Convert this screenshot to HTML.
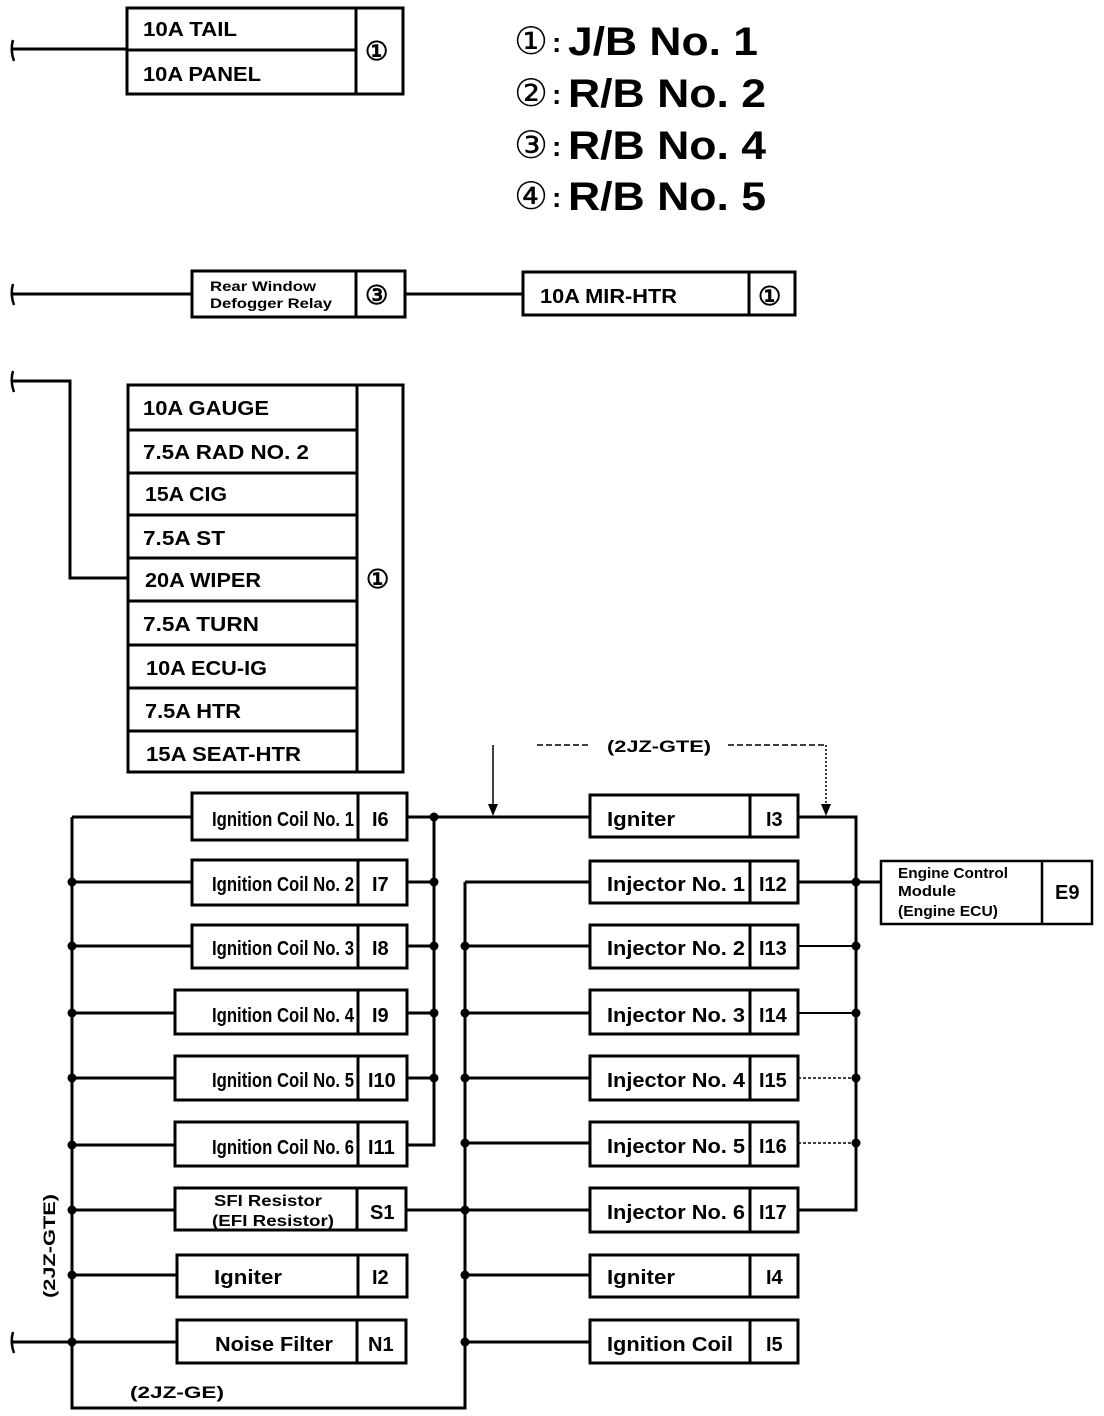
<!DOCTYPE html>
<html><head><meta charset="utf-8">
<style>
html,body{margin:0;padding:0;background:#fff;}
svg{display:block;}
text{font-family:"Liberation Sans",Arial,sans-serif;font-weight:bold;fill:#000;}
.c{font-family:"DejaVu Sans","Liberation Sans",sans-serif;font-weight:normal;}
</style></head>
<body>
<svg width="1104" height="1416" viewBox="0 0 1104 1416" xmlns="http://www.w3.org/2000/svg">
<g fill="none" stroke="#000" stroke-width="3">
<path d="M13 40 Q10 50 14 61" stroke-width="2.5"/>
<path d="M13 284 Q10 294 14 305" stroke-width="2.5"/>
<path d="M13 371 Q10 381 14 392" stroke-width="2.5"/>
<path d="M13 1332 Q10 1342 14 1353" stroke-width="2.5"/>
<line x1="13" y1="49" x2="127" y2="49"/>
<rect x="127" y="8" width="276" height="86"/>
<line x1="356" y1="8" x2="356" y2="94"/>
<line x1="127" y1="50" x2="356" y2="50"/>
<line x1="13" y1="294" x2="192" y2="294"/>
<rect x="192" y="271" width="213" height="46"/>
<line x1="356" y1="271" x2="356" y2="317"/>
<line x1="405" y1="294" x2="523" y2="294"/>
<rect x="523" y="272" width="272" height="43"/>
<line x1="749" y1="272" x2="749" y2="315"/>
<polyline points="13,381 70,381 70,578 128,578"/>
<rect x="128" y="385" width="275" height="387"/>
<line x1="357" y1="385" x2="357" y2="772"/>
<line x1="128" y1="430" x2="357" y2="430"/>
<line x1="128" y1="473" x2="357" y2="473"/>
<line x1="128" y1="515" x2="357" y2="515"/>
<line x1="128" y1="558" x2="357" y2="558"/>
<line x1="128" y1="601" x2="357" y2="601"/>
<line x1="128" y1="645" x2="357" y2="645"/>
<line x1="128" y1="688" x2="357" y2="688"/>
<line x1="128" y1="731" x2="357" y2="731"/>

<polyline points="72,817 72,1408 465,1408 465,882"/>
<line x1="72" y1="817" x2="192" y2="817"/>
<line x1="72" y1="882" x2="192" y2="882"/>
<line x1="72" y1="946" x2="192" y2="946"/>
<line x1="72" y1="1013" x2="175" y2="1013"/>
<line x1="72" y1="1078" x2="175" y2="1078"/>
<line x1="72" y1="1145" x2="175" y2="1145"/>
<line x1="72" y1="1210" x2="175" y2="1210"/>
<line x1="72" y1="1275" x2="177" y2="1275"/>
<line x1="13" y1="1342" x2="177" y2="1342"/>
<rect x="192" y="793" width="215" height="47"/><line x1="358" y1="793" x2="358" y2="840"/>
<rect x="192" y="860" width="215" height="45"/><line x1="358" y1="860" x2="358" y2="905"/>
<rect x="192" y="925" width="215" height="43"/><line x1="358" y1="925" x2="358" y2="968"/>
<rect x="175" y="990" width="232" height="44"/><line x1="358" y1="990" x2="358" y2="1034"/>
<rect x="175" y="1056" width="232" height="44"/><line x1="358" y1="1056" x2="358" y2="1100"/>
<rect x="175" y="1122" width="232" height="44"/><line x1="358" y1="1122" x2="358" y2="1166"/>
<rect x="175" y="1188" width="231" height="42"/><line x1="357" y1="1188" x2="357" y2="1230"/>
<rect x="177" y="1255" width="230" height="42"/><line x1="358" y1="1255" x2="358" y2="1297"/>
<rect x="177" y="1320" width="229" height="43"/><line x1="357" y1="1320" x2="357" y2="1363"/>
<polyline points="407,1145 434,1145 434,817"/>
<line x1="407" y1="817" x2="590" y2="817"/>
<line x1="407" y1="882" x2="434" y2="882"/>
<line x1="407" y1="946" x2="434" y2="946"/>
<line x1="407" y1="1013" x2="434" y2="1013"/>
<line x1="407" y1="1078" x2="434" y2="1078"/>
<line x1="406" y1="1210" x2="590" y2="1210"/>
<line x1="465" y1="882" x2="590" y2="882"/>
<line x1="465" y1="946" x2="590" y2="946"/>
<line x1="465" y1="1013" x2="590" y2="1013"/>
<line x1="465" y1="1078" x2="590" y2="1078"/>
<line x1="465" y1="1143" x2="590" y2="1143"/>
<line x1="465" y1="1275" x2="590" y2="1275"/>
<line x1="465" y1="1342" x2="590" y2="1342"/>
<rect x="590" y="795" width="208" height="42"/><line x1="750" y1="795" x2="750" y2="837"/>
<rect x="590" y="861" width="208" height="42"/><line x1="750" y1="861" x2="750" y2="903"/>
<rect x="590" y="925" width="208" height="43"/><line x1="750" y1="925" x2="750" y2="968"/>
<rect x="590" y="990" width="208" height="44"/><line x1="750" y1="990" x2="750" y2="1034"/>
<rect x="590" y="1056" width="208" height="44"/><line x1="750" y1="1056" x2="750" y2="1100"/>
<rect x="590" y="1122" width="208" height="44"/><line x1="750" y1="1122" x2="750" y2="1166"/>
<rect x="590" y="1188" width="208" height="44"/><line x1="750" y1="1188" x2="750" y2="1232"/>
<rect x="590" y="1255" width="208" height="42"/><line x1="750" y1="1255" x2="750" y2="1297"/>
<rect x="590" y="1320" width="208" height="43"/><line x1="750" y1="1320" x2="750" y2="1363"/>
<polyline points="798,817 856,817 856,1210 798,1210"/>
<line x1="798" y1="882" x2="881" y2="882"/>
<line x1="798" y1="946" x2="856" y2="946" stroke-width="2"/>
<line x1="798" y1="1013" x2="856" y2="1013" stroke-width="2"/>
<line x1="798" y1="1078" x2="856" y2="1078" stroke-width="1.5" stroke-dasharray="3,2"/>
<line x1="798" y1="1143" x2="856" y2="1143" stroke-width="1.5" stroke-dasharray="3,2"/>
<rect x="881" y="861" width="211" height="63" stroke-width="2.5"/>
<line x1="1042" y1="861" x2="1042" y2="924" stroke-width="2.5"/>
<g stroke-width="1.5">
<line x1="537" y1="745" x2="590" y2="745" stroke-dasharray="6,3"/>
<line x1="728" y1="745" x2="826" y2="745" stroke-dasharray="6,3"/>
<line x1="826" y1="745" x2="826" y2="805" stroke-dasharray="2,2"/>
<line x1="493" y1="745" x2="493" y2="805"/>
</g>
</g>
<polygon points="488,804 498,804 493,816" fill="#000"/>
<polygon points="821,804 831,804 826,816" fill="#000"/>
<g fill="#000">
<circle cx="72" cy="882" r="4.5"/><circle cx="72" cy="946" r="4.5"/><circle cx="72" cy="1013" r="4.5"/>
<circle cx="72" cy="1078" r="4.5"/><circle cx="72" cy="1145" r="4.5"/><circle cx="72" cy="1210" r="4.5"/>
<circle cx="72" cy="1275" r="4.5"/><circle cx="72" cy="1342" r="4.5"/>
<circle cx="434" cy="817" r="4.5"/><circle cx="434" cy="882" r="4.5"/><circle cx="434" cy="946" r="4.5"/>
<circle cx="434" cy="1013" r="4.5"/><circle cx="434" cy="1078" r="4.5"/>
<circle cx="465" cy="946" r="4.5"/><circle cx="465" cy="1013" r="4.5"/><circle cx="465" cy="1078" r="4.5"/>
<circle cx="465" cy="1143" r="4.5"/><circle cx="465" cy="1210" r="4.5"/><circle cx="465" cy="1275" r="4.5"/>
<circle cx="465" cy="1342" r="4.5"/>
<circle cx="856" cy="882" r="4.5"/><circle cx="856" cy="946" r="4.5"/><circle cx="856" cy="1013" r="4.5"/>
<circle cx="856" cy="1078" r="4.5"/><circle cx="856" cy="1143" r="4.5"/>
</g>

<g font-size="20">
<text x="143" y="36" textLength="94" lengthAdjust="spacingAndGlyphs">10A TAIL</text>
<text x="143" y="81" textLength="118" lengthAdjust="spacingAndGlyphs">10A PANEL</text>
<text x="540" y="303" textLength="137" lengthAdjust="spacingAndGlyphs">10A MIR-HTR</text>
<text x="143" y="415" textLength="126" lengthAdjust="spacingAndGlyphs">10A GAUGE</text>
<text x="143" y="459" textLength="166" lengthAdjust="spacingAndGlyphs">7.5A RAD NO. 2</text>
<text x="145" y="501" textLength="82" lengthAdjust="spacingAndGlyphs">15A CIG</text>
<text x="143" y="545" textLength="82" lengthAdjust="spacingAndGlyphs">7.5A ST</text>
<text x="145" y="587" textLength="116" lengthAdjust="spacingAndGlyphs">20A WIPER</text>
<text x="143" y="631" textLength="116" lengthAdjust="spacingAndGlyphs">7.5A TURN</text>
<text x="146" y="675" textLength="121" lengthAdjust="spacingAndGlyphs">10A ECU-IG</text>
<text x="145" y="718" textLength="96" lengthAdjust="spacingAndGlyphs">7.5A HTR</text>
<text x="146" y="761" textLength="155" lengthAdjust="spacingAndGlyphs">15A SEAT-HTR</text>
</g>
<text x="210" y="291" font-size="14" font-weight="normal" textLength="106" lengthAdjust="spacingAndGlyphs">Rear Window</text>
<text x="210" y="308" font-size="14" font-weight="normal" textLength="122" lengthAdjust="spacingAndGlyphs">Defogger Relay</text>
<g class="c" font-size="26">
<text x="365" y="60">①</text>
<text x="365" y="304">③</text>
<text x="758" y="305">①</text>
<text x="366" y="588">①</text>
</g>
<g font-size="40">
<text class="c" x="514" y="54" font-size="38">①</text><text x="552" y="52" font-size="28">:</text>
<text x="568" y="55" textLength="190" lengthAdjust="spacingAndGlyphs">J/B No. 1</text>
<text class="c" x="514" y="106" font-size="38">②</text><text x="552" y="104" font-size="28">:</text>
<text x="568" y="107" textLength="198" lengthAdjust="spacingAndGlyphs">R/B No. 2</text>
<text class="c" x="514" y="158" font-size="38">③</text><text x="552" y="156" font-size="28">:</text>
<text x="568" y="159" textLength="198" lengthAdjust="spacingAndGlyphs">R/B No. 4</text>
<text class="c" x="514" y="209" font-size="38">④</text><text x="552" y="207" font-size="28">:</text>
<text x="568" y="210" textLength="198" lengthAdjust="spacingAndGlyphs">R/B No. 5</text>
</g>
<g font-size="20">
<text x="212" y="826" textLength="142" lengthAdjust="spacingAndGlyphs">Ignition Coil No. 1</text>
<text x="212" y="891" textLength="142" lengthAdjust="spacingAndGlyphs">Ignition Coil No. 2</text>
<text x="212" y="955" textLength="142" lengthAdjust="spacingAndGlyphs">Ignition Coil No. 3</text>
<text x="212" y="1022" textLength="142" lengthAdjust="spacingAndGlyphs">Ignition Coil No. 4</text>
<text x="212" y="1087" textLength="142" lengthAdjust="spacingAndGlyphs">Ignition Coil No. 5</text>
<text x="212" y="1154" textLength="142" lengthAdjust="spacingAndGlyphs">Ignition Coil No. 6</text>
<text x="214" y="1284" textLength="68" lengthAdjust="spacingAndGlyphs">Igniter</text>
<text x="215" y="1351" textLength="118" lengthAdjust="spacingAndGlyphs">Noise Filter</text>
<text x="372" y="826">I6</text>
<text x="372" y="891">I7</text>
<text x="372" y="955">I8</text>
<text x="372" y="1022">I9</text>
<text x="368" y="1087">I10</text>
<text x="368" y="1154">I11</text>
<text x="370" y="1219">S1</text>
<text x="372" y="1284">I2</text>
<text x="368" y="1351">N1</text>
<text x="607" y="826" textLength="68" lengthAdjust="spacingAndGlyphs">Igniter</text>
<text x="607" y="891" textLength="138" lengthAdjust="spacingAndGlyphs">Injector No. 1</text>
<text x="607" y="955" textLength="138" lengthAdjust="spacingAndGlyphs">Injector No. 2</text>
<text x="607" y="1022" textLength="138" lengthAdjust="spacingAndGlyphs">Injector No. 3</text>
<text x="607" y="1087" textLength="138" lengthAdjust="spacingAndGlyphs">Injector No. 4</text>
<text x="607" y="1153" textLength="138" lengthAdjust="spacingAndGlyphs">Injector No. 5</text>
<text x="607" y="1219" textLength="138" lengthAdjust="spacingAndGlyphs">Injector No. 6</text>
<text x="607" y="1284" textLength="68" lengthAdjust="spacingAndGlyphs">Igniter</text>
<text x="607" y="1351" textLength="126" lengthAdjust="spacingAndGlyphs">Ignition Coil</text>
<text x="766" y="826">I3</text>
<text x="759" y="891">I12</text>
<text x="759" y="955">I13</text>
<text x="759" y="1022">I14</text>
<text x="759" y="1087">I15</text>
<text x="759" y="1153">I16</text>
<text x="759" y="1219">I17</text>
<text x="766" y="1284">I4</text>
<text x="766" y="1351">I5</text>
<text x="1055" y="899">E9</text>
</g>
<g font-size="16">
<text x="214" y="1206" textLength="108" lengthAdjust="spacingAndGlyphs">SFI Resistor</text>
<text x="212" y="1226" textLength="122" lengthAdjust="spacingAndGlyphs">(EFI Resistor)</text>
<text x="898" y="878" font-size="15" textLength="110" lengthAdjust="spacingAndGlyphs">Engine Control</text>
<text x="898" y="896" font-size="15" textLength="58" lengthAdjust="spacingAndGlyphs">Module</text>
<text x="898" y="916" font-size="15" textLength="100" lengthAdjust="spacingAndGlyphs">(Engine ECU)</text>
</g>
<g font-size="17" font-weight="normal">
<text x="607" y="752" textLength="104" lengthAdjust="spacingAndGlyphs">(2JZ-GTE)</text>
<text x="130" y="1398" textLength="94" lengthAdjust="spacingAndGlyphs">(2JZ-GE)</text>
<text x="0" y="0" transform="translate(55,1298) rotate(-90)" textLength="104" lengthAdjust="spacingAndGlyphs">(2JZ-GTE)</text>
</g>
</svg>
</body></html>
